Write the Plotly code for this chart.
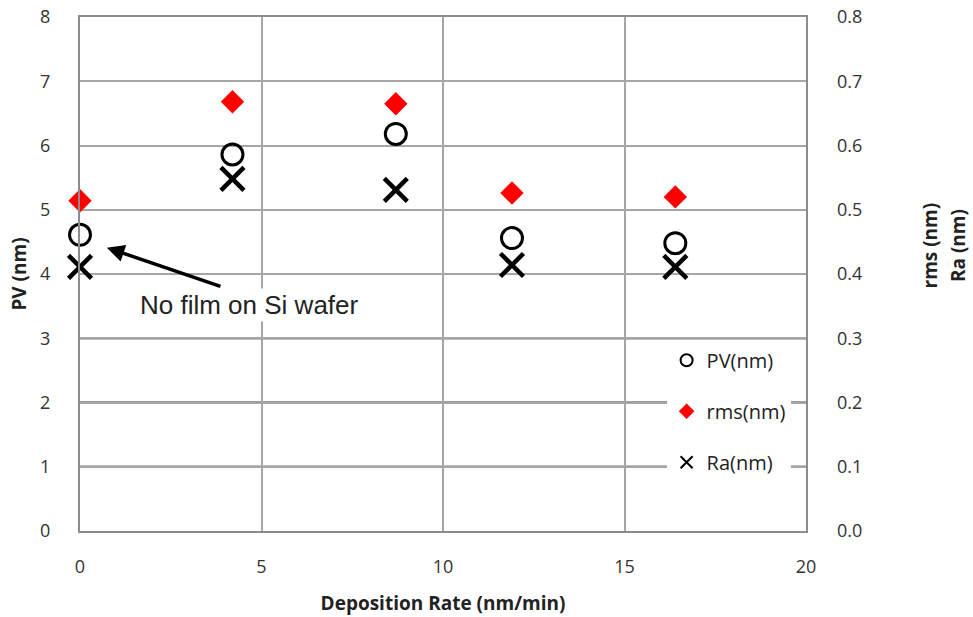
import plotly.graph_objects as go

# Surface roughness vs. deposition rate
deposition_rate = [0.0, 4.2, 8.7, 11.9, 16.4]
pv_nm = [4.61, 5.86, 6.18, 4.56, 4.48]
rms_nm = [0.514, 0.668, 0.665, 0.526, 0.520]
ra_nm = [0.411, 0.548, 0.531, 0.414, 0.411]

left_ticks = [0, 1, 2, 3, 4, 5, 6, 7, 8]
right_ticks = [0.0, 0.1, 0.2, 0.3, 0.4, 0.5, 0.6, 0.7, 0.8]
x_ticks = [0, 5, 10, 15, 20]

FONT = "Open Sans, Liberation Sans, sans-serif"
tick_font = dict(family=FONT, size=18, color="#333")
title_font = dict(family=FONT, size=19, color="#222")

fig = go.Figure()

fig.add_trace(go.Scatter(
    x=deposition_rate, y=pv_nm, mode="markers", name="PV(nm)",
    legendgroup="pv", cliponaxis=False,
    marker=dict(symbol="circle-open", size=21, color="black", line=dict(width=3)),
))
fig.add_trace(go.Scatter(
    x=deposition_rate, y=rms_nm, mode="markers", name="rms(nm)", yaxis="y2",
    legendgroup="rms", cliponaxis=False,
    marker=dict(symbol="diamond", size=18, color="#ff0000", line=dict(width=0)),
))
fig.add_trace(go.Scatter(
    x=deposition_rate, y=ra_nm, mode="markers", name="Ra(nm)", yaxis="y2",
    legendgroup="ra", cliponaxis=False,
    marker=dict(symbol="x-thin-open", size=23, color="black",
                line=dict(width=4.5, color="black")),
))

# Darker horizontal rules in the lower part of the plot
for v in [1, 2, 3]:
    fig.add_shape(type="line", xref="paper", yref="y", x0=0, x1=1, y0=v, y1=v,
                  line=dict(color="#7a7a7a", width=2.5), layer="below")

# Arrow pointing at the bare-substrate measurement
fig.add_annotation(
    x=0.74, y=4.41, ax=3.91, ay=3.80, xref="x", yref="y", axref="x", ayref="y",
    text="", showarrow=True, arrowhead=2, arrowsize=1.0, arrowwidth=3.5,
    arrowcolor="black",
)
fig.add_annotation(
    x=4.68, y=3.52, xref="x", yref="y", text="No film on Si wafer",
    showarrow=False, bgcolor="white",
    font=dict(family="Liberation Sans, Arial, sans-serif", size=26, color="#222"),
)

# Secondary axis titles, one per line
for xp, txt in [(1.192, "rms (nm)"), (1.230, "Ra (nm)")]:
    fig.add_annotation(
        x=xp, y=4.45, xref="paper", yref="y", text=f"<b>{txt}</b>",
        showarrow=False, textangle=-90,
        font=title_font,
    )

fig.update_layout(
    width=973, height=617,
    margin=dict(l=80, r=167, t=17, b=86, autoexpand=False),
    paper_bgcolor="white", plot_bgcolor="white",
    showlegend=True,
    legend=dict(
        x=0.808, y=0.37, xanchor="left", yanchor="top",
        bgcolor="white", borderwidth=0,
        font=dict(family=FONT, size=20, color="#222"),
        itemsizing="constant", tracegroupgap=22,
    ),
    xaxis=dict(
        range=[0, 20], tickvals=x_ticks, ticks="", showgrid=True,
        gridcolor="#a6a6a6", gridwidth=1.5, zeroline=False, automargin=False,
        showline=True, linecolor="#8c8c8c", linewidth=2, mirror=True,
        tickfont=tick_font, ticklabelstandoff=18,
        title=dict(text="<b>Deposition Rate (nm/min)</b>", font=title_font, standoff=20),
    ),
    yaxis=dict(
        range=[0, 8], tickvals=left_ticks, ticks="", showgrid=True,
        gridcolor="#a6a6a6", gridwidth=1.5, zeroline=False, automargin=False,
        showline=True, linecolor="#8c8c8c", linewidth=2, mirror=True,
        tickfont=tick_font, ticklabelstandoff=24,
        title=dict(text="<b>PV (nm)</b>", font=title_font, standoff=8),
    ),
    yaxis2=dict(
        range=[0, 0.8], tickvals=right_ticks, tickformat=".1f", overlaying="y",
        side="right", showgrid=False, zeroline=False, ticks="", automargin=False,
        tickfont=tick_font, ticklabelstandoff=30,
    ),
)

fig.write_html("out.html")
